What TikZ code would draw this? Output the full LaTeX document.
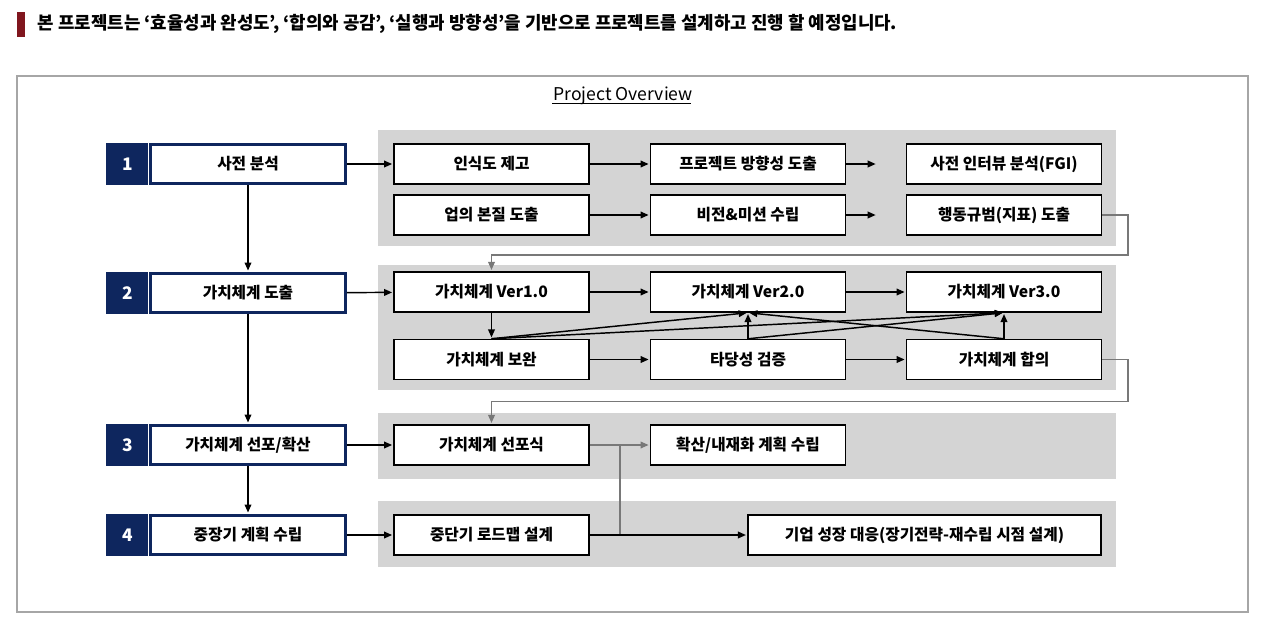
\documentclass[tikz,border=0pt]{standalone}
\usepackage{fontspec}
\setmainfont{Noto Sans CJK KR}
\usetikzlibrary{positioning,arrows.meta}
\definecolor{navy}{RGB}{14,38,94}
\definecolor{barred}{RGB}{128,22,30}
\definecolor{panelgray}{RGB}{212,212,212}
\definecolor{framegray}{RGB}{166,166,166}
\definecolor{linkgray}{RGB}{120,120,120}

\begin{document}
\begin{tikzpicture}[x=0.75pt,y=-0.75pt,->,>={Stealth[length=6pt,width=5pt,inset=0pt]},shorten >=1pt,line width=1.1pt,
  stage node/.style={draw=navy,line width=2.2pt,fill=white,minimum width=146pt,minimum height=29.5pt,inner sep=0pt,font=\fontsize{11.8}{13}\selectfont\bfseries},
  num node/.style={fill=navy,minimum width=31.5pt,minimum height=31pt,inner sep=0pt,text=white,font=\fontsize{13}{15}\selectfont\bfseries},
  task node/.style={draw,line width=1.1pt,fill=white,minimum width=146pt,minimum height=30pt,inner sep=0pt,font=\fontsize{11.8}{13}\selectfont\bfseries},
  panel/.style={fill=panelgray,draw=none},
  fb/.style={draw=linkgray,line width=1pt}]
                \useasboundingbox (0,0) rectangle (1280,621);

                % title line
                \fill[barred] (17,12) rectangle (25,37);
                \node[anchor=west,inner sep=0pt,font=\fontsize{13.4}{15}\selectfont\bfseries] (title) at (37,24) {본 프로젝트는 ‘효율성과 완성도’, ‘합의와 공감’, ‘실행과 방향성’을 기반으로 프로젝트를 설계하고 진행 할 예정입니다.};

                \draw[-,draw=framegray,line width=1.2pt] (17,76) rectangle (1248,612);
                \node[inner sep=0pt,font=\fontsize{13.2}{15}\selectfont] (head) at (623,96) {Project Overview};
                \draw[-,line width=0.9pt] (head.south west)++(0,-2) -- ++(140,0);

                % grey panels
                \fill[panel] (378,130) rectangle (1116,246);
                \fill[panel] (378,265) rectangle (1116,390);
                \fill[panel] (378,413) rectangle (1116,479);
                \fill[panel] (378,501) rectangle (1116,567);

                % stages
                \node[stage node] (s1) at (248,164) {사전 분석};
                \node[stage node] (s2) at (248,293) {가치체계 도출};
                \node[stage node] (s3) at (248,445) {가치체계 선포/확산};
                \node[stage node] (s4) at (248,535) {중장기 계획 수립};
                \node[num node] (n1) [left=0pt of s1] {1};
                \node[num node] (n2) [left=0pt of s2] {2};
                \node[num node] (n3) [left=0pt of s3] {3};
                \node[num node] (n4) [left=0pt of s4] {4};

                % tasks
                \node[task node] (t1) at (491.5,164) {인식도 제고};
                \node[task node] (t2) at (748,164) {프로젝트 방향성 도출};
                \node[task node] (t3) at (1004,164) {사전 인터뷰 분석(FGI)};
                \node[task node] (t4) at (491.5,215) {업의 본질 도출};
                \node[task node] (t5) at (748,215) {비전\&미션 수립};
                \node[task node] (t6) at (1004,215) {행동규범(지표) 도출};
                \node[task node] (v1) at (491.5,292) {가치체계 Ver1.0};
                \node[task node] (v2) at (748,292) {가치체계 Ver2.0};
                \node[task node] (v3) at (1004,292) {가치체계 Ver3.0};
                \node[task node] (v4) at (491.5,359.5) {가치체계 보완};
                \node[task node] (v5) at (748,359.5) {타당성 검증};
                \node[task node] (v6) at (1004,359.5) {가치체계 합의};
                \node[task node] (w1) at (491.5,445) {가치체계 선포식};
                \node[task node] (w2) at (748,445) {확산/내재화 계획 수립};
                \node[task node] (r1) at (491.5,535) {중단기 로드맵 설계};
                \node[task node,minimum width=264.75pt] (r2) at (924.5,535) {기업 성장 대응(장기전략-재수립 시점 설계)};

                \coordinate (e1) at (877,164);
                \coordinate (e2) at (877,215);
                \coordinate (j1) at (620,445);

                \path
                    (s1) edge (s2)
                    (s2) edge (s3)
                    (s3) edge (s4)
                    (s1) edge (t1)
                    (s2) edge (v1)
                    (s3) edge (w1)
                    (s4) edge (r1)
                    (t1) edge (t2)
                    (t2.east) edge (e1)
                    (t4) edge (t5)
                    (t5.east) edge (e2)
                    (v1) edge (v2)
                    (v2) edge (v3)
                    (v1) edge (v4)
                    (v4) edge (v5)
                    (v5) edge (v6)
                    (v4.north) edge (v2.south)
                    (v4.north) edge (v3.south)
                    (v5) edge (v2)
                    (v5.north) edge (v3.south)
                    (v6.north) edge (v2.south)
                    (v6) edge (v3)
                    (r1) edge (r2)
                ;

                % feedback lines
                \draw[fb] (t6.east) -- ++(26,0) -- ++(0,40) -| (v1.north);
                \draw[fb] (v6.east) -- ++(26,0) -- ++(0,42) -| (w1.north);
                \draw[fb] (w1) -- (w2);
                \draw[fb,-] (j1) -- (j1 |- r1);

            \end{tikzpicture}
\end{document}
